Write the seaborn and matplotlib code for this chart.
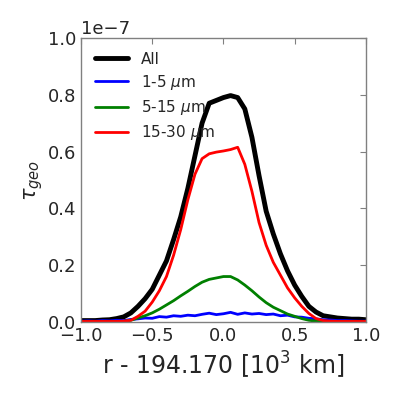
import numpy as np
import pandas as pd
import matplotlib
matplotlib.use("Agg")
import matplotlib.pyplot as plt
import seaborn as sns

# radial distance from 194.170 (10^3 km)
r = [-1.00, -0.95, -0.90, -0.85, -0.80, -0.75, -0.70, -0.65, -0.60, -0.55,
     -0.50, -0.45, -0.40, -0.35, -0.30, -0.25, -0.20, -0.15, -0.10, -0.05,
     0.00, 0.05, 0.10, 0.15, 0.20, 0.25, 0.30, 0.35, 0.40, 0.45,
     0.50, 0.55, 0.60, 0.65, 0.70, 0.75, 0.80, 0.85, 0.90, 0.95, 1.00]

# optical depth, in units of 1e-7
tau_all = [0.005, 0.005, 0.005, 0.007, 0.008, 0.012, 0.018, 0.032, 0.055, 0.082,
           0.115, 0.165, 0.215, 0.290, 0.370, 0.470, 0.585, 0.700, 0.770, 0.780,
           0.790, 0.797, 0.790, 0.750, 0.650, 0.515, 0.390, 0.310, 0.240, 0.180,
           0.130, 0.090, 0.055, 0.035, 0.022, 0.018, 0.014, 0.012, 0.010, 0.010, 0.008]
tau_1_5 = [0.003, 0.004, 0.003, 0.005, 0.004, 0.006, 0.005, 0.009, 0.011, 0.014,
           0.013, 0.019, 0.017, 0.022, 0.020, 0.024, 0.022, 0.027, 0.031, 0.026,
           0.029, 0.034, 0.027, 0.032, 0.028, 0.030, 0.026, 0.028, 0.022, 0.024,
           0.018, 0.017, 0.013, 0.011, 0.008, 0.007, 0.005, 0.005, 0.004, 0.003, 0.003]
tau_5_15 = [0.001, 0.001, 0.001, 0.001, 0.001, 0.001, 0.002, 0.006, 0.014, 0.022,
            0.032, 0.045, 0.060, 0.075, 0.092, 0.108, 0.125, 0.140, 0.150, 0.155,
            0.160, 0.160, 0.148, 0.130, 0.110, 0.088, 0.068, 0.052, 0.040, 0.028,
            0.020, 0.012, 0.006, 0.003, 0.002, 0.001, 0.001, 0.001, 0.001, 0.001, 0.001]
tau_15_30 = [0.002, 0.002, 0.002, 0.002, 0.002, 0.002, 0.003, 0.006, 0.020, 0.038,
             0.070, 0.110, 0.160, 0.235, 0.325, 0.430, 0.520, 0.575, 0.592, 0.598,
             0.602, 0.607, 0.615, 0.555, 0.460, 0.350, 0.270, 0.210, 0.165, 0.120,
             0.085, 0.055, 0.030, 0.012, 0.005, 0.003, 0.002, 0.002, 0.002, 0.002, 0.002]

labels = ["All", r"1-5 $\mu$m", r"5-15 $\mu$m", r"15-30 $\mu$m"]
series = [tau_all, tau_1_5, tau_5_15, tau_15_30]
colors = ["black", "blue", "green", "red"]
widths = [3.5, 2, 2, 2]

sns.set_style("white", {"xtick.direction": "in", "ytick.direction": "in",
                        "axes.edgecolor": "0.5", "text.color": "0.15"})

fig = plt.figure(figsize=(3.99, 3.99), dpi=100)
ax = fig.add_axes([0.203, 0.193, 0.714, 0.712])

for lab, vals, c, lw in zip(labels, series, colors, widths):
    df = pd.DataFrame({"r": r, "tau": np.array(vals) * 1e-7})
    sns.lineplot(data=df, x="r", y="tau", color=c, linewidth=lw, label=lab, ax=ax)

ax.set_xlim(-1, 1)
ax.set_ylim(0, 1e-7)
ax.set_xticks([-1.0, -0.5, 0.0, 0.5, 1.0])
ax.set_yticks([0, 0.2e-7, 0.4e-7, 0.6e-7, 0.8e-7, 1.0e-7])
ax.tick_params(axis="both", which="both", direction="in", top=True, right=True,
               length=4, width=0.8, color="0.5", labelsize=13, labelcolor="0.15")
ax.yaxis.get_offset_text().set_fontsize(13)
ax.set_xlabel(r"r - 194.170 [10$^3$ km]", fontsize=17, color="0.15")
ax.set_ylabel(r"$\tau_{geo}$", fontsize=15, color="0.15", labelpad=2)
for s in ax.spines.values():
    s.set_color("0.5")
    s.set_linewidth(1)

ax.legend(loc="upper left", frameon=False, fontsize=11, handlelength=2.2,
          borderaxespad=0.5, labelspacing=0.4)

fig.savefig("out.png", dpi=100)
